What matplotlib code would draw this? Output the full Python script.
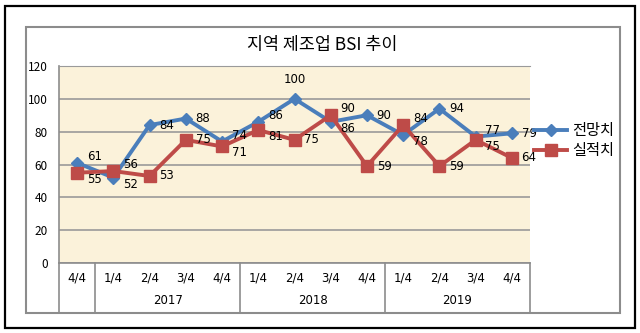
import matplotlib
matplotlib.use("Agg")
import matplotlib.pyplot as plt
from matplotlib.patches import Rectangle
from matplotlib.lines import Line2D
import matplotlib.transforms as mtransforms

plt.rcParams['font.family'] = ['Noto Sans CJK KR', 'DejaVu Sans']

quarters = ["4/4", "1/4", "2/4", "3/4", "4/4", "1/4", "2/4", "3/4", "4/4",
            "1/4", "2/4", "3/4", "4/4"]
years = ["2017", "2018", "2019"]
year_groups = [(1, 4), (5, 8), (9, 12)]  # first/last category index of each year
forecast = [61, 52, 84, 88, 74, 86, 100, 86, 90, 78, 94, 77, 79]
actual = [55, 56, 53, 75, 71, 81, 75, 90, 59, 84, 59, 75, 64]

W, H = 640, 333
fig = plt.figure(figsize=(W / 100, H / 100), dpi=100)

# outer black border and gray chart frame
fig.patches.append(Rectangle((5 / W, 5 / H), 630 / W, 322 / H, transform=fig.transFigure,
                             fill=False, edgecolor="black", linewidth=1.6))
fig.patches.append(Rectangle((26 / W, (H - 313) / H), 594 / W, 286 / H, transform=fig.transFigure,
                             fill=False, edgecolor="#8C8C8C", linewidth=1.5))

left, right, top, bottom = 59, 530, 66, 263
ax = fig.add_axes([left / W, (H - bottom) / H, (right - left) / W, (bottom - top) / H])
ax.set_facecolor("#FBF2DA")

x = list(range(len(quarters)))
ax.plot(x, forecast, color="#4A7EBB", linewidth=2.8, marker="D", markersize=6,
        label="전망치", zorder=3)
ax.plot(x, actual, color="#BE4B48", linewidth=2.8, marker="s", markersize=8,
        label="실적치", zorder=3)


def put_label(i, v, other):
    # close pairs: higher label sits above the point's level, lower one below
    if abs(v - other) < 8:
        va, dy = ("bottom", 0) if v > other else ("top", 0)
    else:
        va, dy = "center", 0
    ax.annotate(str(v), (i, v), xytext=(7, dy), textcoords="offset points",
                ha="left", va=va, fontsize=8.5, family="DejaVu Sans")


for i, v in enumerate(forecast):
    if v == 100:
        ax.annotate(str(v), (i, v), xytext=(0, 9), textcoords="offset points",
                    ha="center", va="bottom", fontsize=8.5, family="DejaVu Sans")
    else:
        put_label(i, v, actual[i])
for i, v in enumerate(actual):
    put_label(i, v, forecast[i])

ax.set_xlim(-0.5, len(quarters) - 0.5)
ax.set_ylim(0, 120)
ax.set_yticks(range(0, 121, 20))
ax.set_xticks([])
ax.tick_params(axis="y", length=0, labelsize=8.5, pad=8)
ax.grid(axis="y", color="#9A9A9A", linewidth=1.2)
ax.set_axisbelow(True)
ax.spines["right"].set_visible(False)
ax.spines["top"].set_color("#9A9A9A")
ax.spines["left"].set_color("#8C8C8C")
ax.spines["bottom"].set_color("#8C8C8C")
ax.spines["left"].set_linewidth(1.2)
ax.spines["bottom"].set_linewidth(1.2)

# multi-level category axis
trans = mtransforms.blended_transform_factory(ax.transData, ax.transAxes)
ybot = -(313 - bottom) / (bottom - top)
for xs in [-0.5, 0.5, 4.5, 8.5, 12.5]:
    ax.add_line(Line2D([xs, xs], [0, ybot], transform=trans, color="#8C8C8C",
                       linewidth=1.2, clip_on=False))
for i, q in enumerate(quarters):
    ax.text(i, -(278 - bottom) / (bottom - top), q, transform=trans, ha="center",
            va="center", fontsize=8.5, family="DejaVu Sans")
for yr, (a, b) in zip(years, year_groups):
    ax.text((a + b) / 2, -(300 - bottom) / (bottom - top), yr, transform=trans,
            ha="center", va="center", fontsize=8.5, family="DejaVu Sans")

fig.text(322 / W, 1 - 45 / H, "지역 제조업 BSI 추이", ha="center", va="center", fontsize=12.5)

ax.legend(loc="center left", bbox_to_anchor=(0.995, 0.62), frameon=False, fontsize=11,
          handlelength=2.2, handletextpad=0.3, labelspacing=0.2, borderaxespad=0)

fig.savefig("out.png", dpi=100)
